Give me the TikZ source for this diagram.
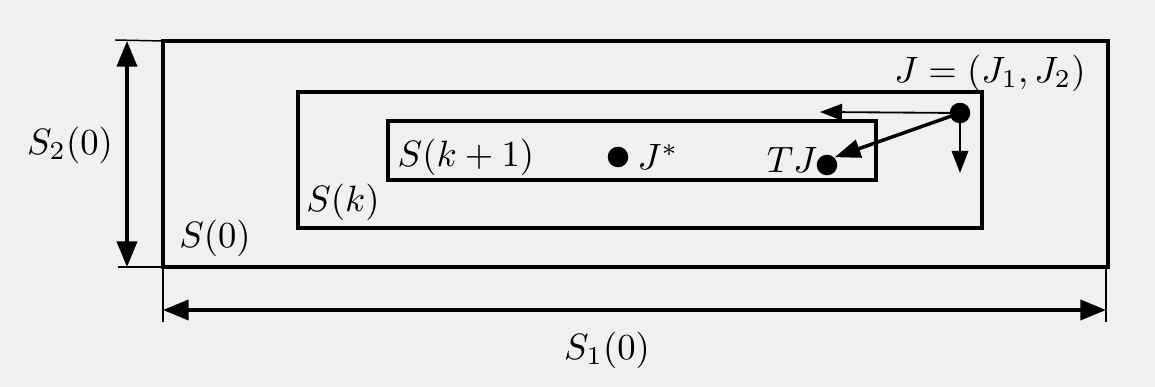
\documentclass[tikz,border=0pt]{standalone}
\usetikzlibrary{arrows.meta}
\definecolor{bg}{HTML}{F0F0F0}
\begin{document}
\begin{tikzpicture}[x=0.2727pt,y=-0.2727pt,
  box/.style={draw=black,line width=0.95pt},
  thinline/.style={draw=black,line width=0.4pt},
  dimarrow/.style={line width=0.9pt,{Triangle[length=7pt,width=5.5pt]}-{Triangle[length=7pt,width=5.5pt]}},
  smallarrow/.style={line width=0.5pt,-{Triangle[length=6pt,width=4.5pt]}},
  bigarrow/.style={line width=0.95pt,-{Triangle[length=7pt,width=5pt]}},
  dot/.style={circle,fill=black,inner sep=0pt,minimum size=5.6pt},
  lbl/.style={inner sep=0pt}]
\fill[bg] (0,0) rectangle (1155,387);
\useasboundingbox (0,0) rectangle (1155,387);
% rectangles
\draw[box] (163,41) rectangle (1108,267);
\draw[box] (298,92) rectangle (982,228);
\draw[box] (388,121) rectangle (876,180);
% dimension extension lines
\coordinate (vt0) at (115,40);
\coordinate (vt1) at (163,41);
\coordinate (vb0) at (118,267);
\coordinate (vb1) at (163,267);
\coordinate (hl0) at (163,267);
\coordinate (hl1) at (163,322);
\coordinate (hr0) at (1106,267);
\coordinate (hr1) at (1106,322);
\draw[thinline] (vt0) -- (vt1);
\draw[thinline] (vb0) -- (vb1);
\draw[thinline] (hl0) -- (hl1);
\draw[thinline] (hr0) -- (hr1);
% dimension arrows
\coordinate (va) at (127,41);
\coordinate (vb) at (127,267);
\coordinate (ha) at (163,310);
\coordinate (hb) at (1106,310);
\draw[dimarrow] (va) -- (vb);
\draw[dimarrow] (ha) -- (hb);
% labels
\node[lbl] (s2) at (70,145) {$S_2(0)$};
\node[lbl] (s1) at (607,350) {$S_1(0)$};
\node[lbl] (s0) at (215,238) {$S(0)$};
\node[lbl] (sk) at (343,202) {$S(k)$};
\node[lbl] (sk1) at (466,157) {$S(k+1)$};
% points
\node[dot] (J) at (960,113) {};
\node[dot] (TJ) at (827,165) {};
\node[dot] (Js) at (618,157) {};
\node[lbl,anchor=west] (Jslbl) at (637,157) {$J^*$};
\node[lbl,anchor=east] (TJlbl) at (818,160) {$TJ$};
\node[lbl] (Jlbl) at (990,73) {$J=(J_1,J_2)$};
% arrows from J
\coordinate (Jl) at (820,112);
\coordinate (Jd) at (960,173);
\draw[smallarrow] (J.center) -- (Jl);
\draw[smallarrow] (J.center) -- (Jd);
\draw[bigarrow] (J.center) -- (TJ.north east);
\end{tikzpicture}
\end{document}
